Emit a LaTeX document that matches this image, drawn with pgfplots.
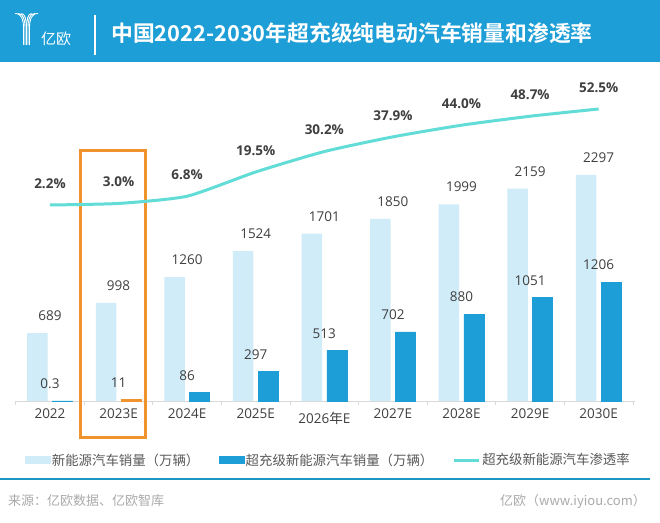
\documentclass[border=0pt]{standalone}
\usepackage{pgfplots}
\pgfplotsset{compat=1.18}
\usepackage{fontspec}
\setmainfont{Open Sans}
\newfontfamily\cjk{Noto Sans CJK SC}[BoldFont={Noto Sans CJK SC Bold}]
\definecolor{hdr}{RGB}{30,158,214}
\definecolor{lightbar}{RGB}{207,236,248}
\definecolor{darkbar}{RGB}{30,158,214}
\definecolor{orangec}{RGB}{240,146,46}
\definecolor{linec}{RGB}{98,220,214}
\definecolor{axisgray}{RGB}{217,217,217}
\definecolor{labc}{RGB}{64,64,64}
\definecolor{legc}{RGB}{89,89,89}
\definecolor{footc}{RGB}{170,170,170}
\definecolor{footline}{RGB}{30,150,195}
\begin{document}
\begin{tikzpicture}[x=1pt,y=1pt]
\path[use as bounding box, fill=white] (0,0) rectangle (660,522);
\fill[hdr] (0,460) rectangle (660,522);
\begin{scope}[shift={(0pt,522pt)}, yscale=-1]
  % logo icon
  \foreach \i in {0,1,2}{
    \draw[white, line width=0.9pt] ({15+3.2*\i},13.5) .. controls ({22+1.5*\i},13.5) and ({23.5+1.5*\i},20) .. ({23.5+1.5*\i},28) -- ({23.5+1.5*\i},45);
    \draw[white, line width=0.9pt] ({38-3.2*\i},13.5) .. controls ({31-1.5*\i},13.5) and ({29.5-1.5*\i},20) .. ({29.5-1.5*\i},28) -- ({29.5-1.5*\i},45);
  }
  \node[anchor=west, inner sep=0pt, text=white, font=\cjk\fontsize{15}{17}\selectfont] at (41,38.5) {亿欧};
  \draw[white, line width=1.2pt] (95,15) -- (95,55);
  \node[anchor=west, inner sep=0pt, text=white, font=\cjk\bfseries\fontsize{21.8}{24}\selectfont] at (111,33) {中国2022-2030年超充级纯电动汽车销量和渗透率};
  % footer
  \draw[footline, line width=2pt] (0,479) -- (650,479);
  \node[anchor=west, inner sep=0pt, text=footc, font=\cjk\fontsize{13}{15}\selectfont] at (8,501) {来源：亿欧数据、亿欧智库};
  \node[anchor=east, inner sep=0pt, text=footc, font=\cjk\fontsize{13}{15}\selectfont] at (646,501) {亿欧（www.iyiou.com）};
\end{scope}

\begin{axis}[
  at={(15pt,121pt)}, anchor=south west, scale only axis,
  width=620pt, height=330pt,
  xmin=-0.51, xmax=8.53, ymin=0, ymax=3354,
  axis x line*=bottom, axis y line=none,
  x axis line style={draw=axisgray, line width=1pt},
  xtick={0,...,8},
  xticklabels={2022,2023E,2024E,2025E,{\raisebox{-5pt}{2026{\cjk 年}E}},2027E,2028E,2029E,2030E},
  major tick length=0pt,
  minor xtick={-0.5,0.5,...,8.5},
  minor tick length=4pt, tick align=outside,
  minor tick style={draw=axisgray, line width=0.8pt},
  xticklabel style={font=\fontsize{13.5}{15}\selectfont, text=labc, anchor=base, yshift=-17pt},
  clip=false,
  point meta=explicit symbolic,
  nodes near coords,
  nodes near coords style={font=\fontsize{13.5}{15}\selectfont, text=labc, anchor=south, inner sep=0pt, yshift=12pt},
]
\addplot[ybar, bar width=20.5pt, bar shift=-12.5pt, fill=lightbar, draw=none] coordinates {
  (0,689) [689] (1,998) [998] (2,1260) [1260] (3,1524) [1524] (4,1701) [1701]
  (5,1850) [1850] (6,1999) [1999] (7,2159) [2159] (8,2297) [2297]
};
\addplot[ybar, bar width=20pt, bar shift=12.5pt, fill=darkbar, draw=darkbar, line width=0.6pt] coordinates {
  (0,0.3) [0.3] (2,86) [86] (3,297) [297] (4,513) [513]
  (5,702) [702] (6,880) [880] (7,1051) [1051] (8,1206) [1206]
};
\addplot[ybar, bar width=20pt, bar shift=12.5pt, fill=orangec, draw=orangec, line width=1pt] coordinates {
  (1,11) [11]
};
\draw[orangec, line width=3pt] (axis cs:0.452,-376) rectangle (axis cs:1.399,2541);
\end{axis}

\begin{axis}[
  at={(15pt,121pt)}, anchor=south west, scale only axis,
  width=620pt, height=330pt,
  xmin=-0.51, xmax=8.53, ymin=-100.5, ymax=72.4,
  hide axis, clip=false,
  legend style={at={(0.505,-0.179)}, anchor=center, draw=none, fill=none,
    legend columns=3, font=\cjk\fontsize{13.4}{15}\selectfont, text=legc,
    /tikz/every even column/.append style={column sep=18pt},
    nodes={inner sep=1.5pt}},
]
\addlegendimage{legend image code/.code={\fill[lightbar] (0pt,-3.5pt) rectangle (25pt,3.5pt);}}
\addlegendentry{新能源汽车销量（万辆）}
\addlegendimage{legend image code/.code={\fill[darkbar] (0pt,-3.5pt) rectangle (25pt,3.5pt);}}
\addlegendentry{超充级新能源汽车销量（万辆）}
\addplot[linec, line width=3pt, smooth, tension=0.35,
  legend image code/.code={\draw[linec, line width=3pt] (0pt,0pt) -- (25pt,0pt);},
  point meta=explicit symbolic, nodes near coords,
  nodes near coords style={font=\bfseries\fontsize{13.5}{15}\selectfont, text=labc, anchor=south, inner sep=0pt, yshift=15pt}]
  coordinates {
  (0,2.2) [2.2\%] (1,3.0) [3.0\%] (2,6.8) [6.8\%] (3,19.5) [19.5\%] (4,30.2) [30.2\%]
  (5,37.9) [37.9\%] (6,44.0) [44.0\%] (7,48.7) [48.7\%] (8,52.5) [52.5\%]
};
\addlegendentry{超充级新能源汽车渗透率}
\end{axis}
\end{tikzpicture}
\end{document}
